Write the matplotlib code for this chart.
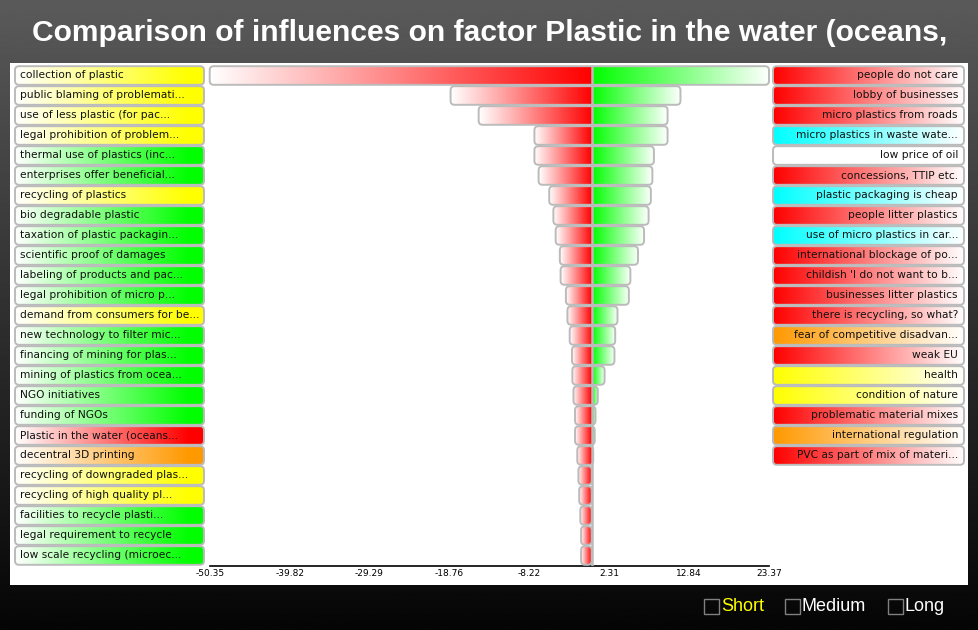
import numpy as np
import matplotlib
matplotlib.use("Agg")
import matplotlib.pyplot as plt
from matplotlib.patches import FancyBboxPatch, Rectangle
from matplotlib.colors import to_rgb

title = "Comparison of influences on factor Plastic in the water (oceans,"

left_labels = [
    "collection of plastic", "public blaming of problemati...", "use of less plastic (for pac...",
    "legal prohibition of problem...", "thermal use of plastics (inc...", "enterprises offer beneficial...",
    "recycling of plastics", "bio degradable plastic", "taxation of plastic packagin...",
    "scientific proof of damages", "labeling of products and pac...", "legal prohibition of micro p...",
    "demand from consumers for be...", "new technology to filter mic...", "financing of mining for plas...",
    "mining of plastics from ocea...", "NGO initiatives", "funding of NGOs",
    "Plastic in the water (oceans...", "decentral 3D printing", "recycling of downgraded plas...",
    "recycling of high quality pl...", "facilities to recycle plasti...", "legal requirement to recycle",
    "low scale recycling (microec...",
]
left_colors = [
    "yellow", "yellow", "yellow", "yellow", "green", "green", "yellow", "green", "green",
    "green", "green", "green", "yellow", "green", "green", "green", "green", "green",
    "red", "orange", "yellow", "yellow", "green", "green", "green",
]
right_labels = [
    "people do not care", "lobby of businesses", "micro plastics from roads",
    "micro plastics in waste wate...", "low price of oil", "concessions, TTIP etc.",
    "plastic packaging is cheap", "people litter plastics", "use of micro plastics in car...",
    "international blockage of po...", "childish 'I do not want to b...", "businesses litter plastics",
    "there is recycling, so what?", "fear of competitive disadvan...", "weak EU", "health",
    "condition of nature", "problematic material mixes", "international regulation",
    "PVC as part of mix of materi...",
]
right_colors = [
    "red", "red", "red", "cyan", "white", "red", "cyan", "red", "cyan", "red",
    "red", "red", "red", "orange", "red", "yellow", "yellow", "red", "orange", "red",
]

# influence values (left = negative side, right = positive side)
neg_vals = [-50.35, -18.6, -14.9, -7.55, -7.55, -7.0, -5.6, -5.05, -4.75, -4.2, -4.1, -3.4,
            -3.2, -2.9, -2.6, -2.55, -2.4, -2.2, -2.2, -1.9, -1.75, -1.65, -1.5, -1.4, -1.4]
pos_vals = [23.37, 11.7, 10.0, 10.0, 8.2, 8.0, 7.8, 7.5, 6.9, 6.1, 5.1, 4.9,
            3.4, 3.1, 3.0, 1.7, 0.8, 0.5, 0.4, 0.2]
tick_labels = ["-50.35", "-39.82", "-29.29", "-18.76", "-8.22", "2.31", "12.84", "23.37"]

palette = {"yellow": "#ffff00", "green": "#00ff00", "red": "#ff0000",
           "orange": "#ff9900", "cyan": "#00ffff", "white": "#ffffff"}
border = "#bbbbbb"

W, H = 979, 630
fig = plt.figure(figsize=(W / 100, H / 100), dpi=100)


def box(x0, y0, x1, y1):
    ax = fig.add_axes([x0 / W, 1 - y1 / H, (x1 - x0) / W, (y1 - y0) / H])
    return ax


def gradient(ax, x0, x1, yc, h, c0, c1, clip, stop=1.0):
    t = np.clip(np.linspace(0, 1, 256) / stop, 0, 1)[:, None]
    img = np.array(to_rgb(c0)) * (1 - t) + np.array(to_rgb(c1)) * t
    im = ax.imshow(img[None, :, :], extent=[x0, x1, yc + h / 2, yc - h / 2],
                   aspect="auto", interpolation="bilinear", zorder=2)
    im.set_clip_path(clip)


def rounded(ax, x0, x1, yc, h, xpp, ypp, r=4):
    p = FancyBboxPatch((x0, yc - h / 2), x1 - x0, h,
                       boxstyle=f"round,pad=0,rounding_size={r / xpp}",
                       mutation_aspect=xpp / ypp, facecolor="none",
                       edgecolor=border, lw=1.4, zorder=3, clip_on=False)
    ax.add_patch(p)
    return p


# background
bg = box(0, 0, W, H)
shade = np.linspace(0x5a / 255, 0.02, 256)[:, None]
bg.imshow(shade, cmap="gray", vmin=0, vmax=1, aspect="auto", extent=[0, 1, 0, 1])
bg.axis("off")

panel = box(10, 63, 968, 585)
panel.set_facecolor("white")
panel.set_xticks([])
panel.set_yticks([])
for s in panel.spines.values():
    s.set_visible(False)

fig.text(489.5 / W, 1 - 33 / H, title, ha="center", va="center", color="white",
         fontsize=21.6, fontweight="bold", family="Liberation Sans")

n = len(left_labels)
h = 0.93
top, bot = 65.5, 565.5
ypp = (bot - top) / n

# central comparison bars
ax = box(209.7, top, 769, bot)
ax.patch.set_alpha(0)
xmin, xmax = min(neg_vals), max(pos_vals)
xpp = (769 - 209.7) / (xmax - xmin)
ax.set_autoscale_on(False)
ax.set_xlim(xmin, xmax)
ax.set_ylim(n - 0.5, -0.5)
for i in range(n):
    lo = neg_vals[i]
    hi = pos_vals[i] if i < len(pos_vals) else 0.0
    p = rounded(ax, lo, hi, i, h, xpp, ypp)
    gradient(ax, lo, 0, i, h, "#ffffff", "#ff0000", p)
    if hi > 0:
        gradient(ax, 0, hi, i, h, "#00ff00", "#ffffff", p)
ax.plot([0, 0], [n - 0.5, -0.5], color=border, lw=1.8, zorder=4, solid_capstyle="butt")
ax.set_xlim(xmin, xmax)
ax.set_ylim(n - 0.5, -0.5)
for k in ["top", "left", "right"]:
    ax.spines[k].set_visible(False)
ax.spines["bottom"].set_linewidth(1.2)
ax.set_yticks([])
ax.set_xticks([float(t) for t in tick_labels])
ax.set_xticklabels(tick_labels, fontsize=6.5, family="DejaVu Sans")
ax.tick_params(axis="x", length=0, pad=2.5)

# factor label columns
for side, labels, colors, (x0, x1) in [("left", left_labels, left_colors, (15, 204)),
                                       ("right", right_labels, right_colors, (773, 964))]:
    la = box(x0, top, x1, bot)
    la.patch.set_alpha(0)
    la.set_autoscale_on(False)
    la.axis("off")
    wpx = x1 - x0
    for i, (lab, col) in enumerate(zip(labels, colors)):
        p = rounded(la, 0, 1, i, h, wpx, ypp)
        if side == "left":
            gradient(la, 0, 1, i, h, "#ffffff", palette[col], p, stop=0.92)
            la.text(5 / wpx, i, lab, ha="left", va="center", fontsize=7.7,
                    color="#111111", zorder=5)
        else:
            gradient(la, 0, 1, i, h, palette[col], "#ffffff", p)
            la.text(1 - 6 / wpx, i, lab, ha="right", va="center", fontsize=7.7,
                    color="#111111", zorder=5)
    la.set_xlim(0, 1)
    la.set_ylim(n - 0.5, -0.5)

# legend checkboxes
for name, col, bx in [("Short", "#ffff00", 704), ("Medium", "white", 785), ("Long", "white", 888)]:
    fig.add_artist(Rectangle((bx / W, 1 - 614 / H), 15 / W, 15 / H, transform=fig.transFigure,
                             fill=False, edgecolor="#808080", lw=1))
    fig.text((bx + 17) / W, 1 - 606.5 / H, name, ha="left", va="center", color=col,
             fontsize=13, family="Liberation Sans")

fig.savefig("out.png", dpi=100)
